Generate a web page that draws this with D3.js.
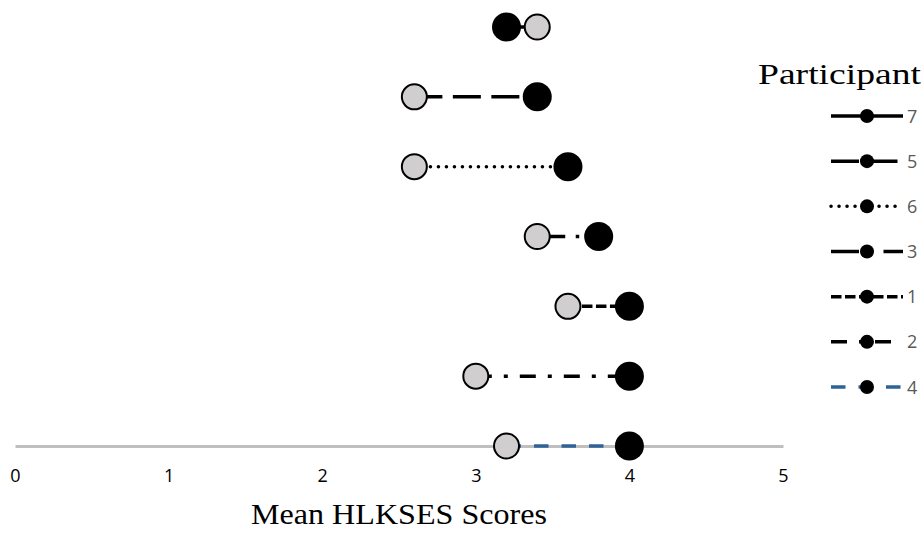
<!DOCTYPE html>
<html>
<head>
<meta charset="utf-8">
<script src="https://cdn.jsdelivr.net/npm/d3@7"></script>
<style>
  body { margin: 0; background: #fff; }
  svg { display: block; }
</style>
</head>
<body>
<div id="chart"></div>
<script>
// participants, top row to bottom row (same order as the legend)
const participants = ["7", "5", "6", "3", "1", "2", "4"];
// grey marker values and black marker values (mean HLKSES scores)
const greyScores = [3.4, 2.6, 2.6, 3.4, 3.6, 3.0, 3.2];
const blackScores = [3.2, 3.4, 3.6, 3.8, 4.0, 4.0, 4.0];
const xTicks = [0, 1, 2, 3, 4, 5];

// line style per participant
const lineStyles = {
  "7": { dash: null, color: "#000" },
  "5": { dash: "28 10.5", color: "#000" },
  "6": { dash: "0.1 7.9", color: "#000", cap: "round" },
  "3": { dash: "28 10.5 3.5 10.5", color: "#000" },
  "1": { dash: "10.5 3.5", color: "#000" },
  "2": { dash: "16 12 4 12", color: "#000" },
  "4": { dash: "14.5 13", color: "#2e6398" }
};

const width = 922;
const height = 534;
const serif = "'Liberation Serif', 'DejaVu Serif', serif";
const sans = "'Open Sans', 'Liberation Sans', sans-serif";

const svg = d3.select("#chart").append("svg")
  .attr("width", width)
  .attr("height", height);

const x = d3.scaleLinear().domain([0, 5]).range([15, 783]);
const y = d3.scalePoint().domain(participants).range([27, 446]);

const rows = participants.map((p, i) => ({
  participant: p,
  grey: greyScores[i],
  black: blackScores[i]
}));

// x axis: only the baseline and labels
const axis = svg.append("g")
  .attr("transform", `translate(0,${y("4")})`)
  .call(d3.axisBottom(x).tickValues(xTicks).tickSize(0).tickPadding(23).tickFormat(d3.format("d")));
axis.attr("font-size", null).attr("font-family", null);
axis.select(".domain").attr("stroke", "#bfbfbf").attr("stroke-width", 3);
axis.selectAll("text")
  .attr("font-family", sans)
  .attr("font-size", 18)
  .attr("fill", "#000");

svg.append("text")
  .attr("x", 399)
  .attr("y", 524)
  .attr("text-anchor", "middle")
  .attr("textLength", 296)
  .attr("lengthAdjust", "spacingAndGlyphs")
  .attr("font-family", serif)
  .attr("font-size", 29)
  .text("Mean HLKSES Scores");

// connecting lines
svg.append("g").selectAll("line")
  .data(rows)
  .join("line")
  .attr("x1", (d) => x(d.grey))
  .attr("x2", (d) => x(d.black))
  .attr("y1", (d) => y(d.participant))
  .attr("y2", (d) => y(d.participant))
  .attr("stroke", (d) => lineStyles[d.participant].color)
  .attr("stroke-width", 3.5)
  .attr("stroke-linecap", (d) => lineStyles[d.participant].cap || "butt")
  .attr("stroke-dasharray", (d) => lineStyles[d.participant].dash);

svg.append("g").selectAll("circle")
  .data(rows)
  .join("circle")
  .attr("cx", (d) => x(d.black))
  .attr("cy", (d) => y(d.participant))
  .attr("r", 14.5)
  .attr("fill", "#000");

svg.append("g").selectAll("circle")
  .data(rows)
  .join("circle")
  .attr("cx", (d) => x(d.grey))
  .attr("cy", (d) => y(d.participant))
  .attr("r", 12.5)
  .attr("fill", "#d0cece")
  .attr("stroke", "#000")
  .attr("stroke-width", 2);

// legend
const legend = svg.append("g");
legend.append("text")
  .attr("x", 758)
  .attr("y", 84)
  .attr("textLength", 163)
  .attr("lengthAdjust", "spacingAndGlyphs")
  .attr("font-family", serif)
  .attr("font-size", 29)
  .text("Participant");

const legendY = d3.scalePoint().domain(participants).range([116, 387]);

const item = legend.selectAll("g.item")
  .data(participants)
  .join("g")
  .attr("class", "item")
  .attr("transform", (p) => `translate(0,${legendY(p)})`);

item.append("line")
  .attr("x1", 831)
  .attr("x2", 903)
  .attr("stroke", (p) => lineStyles[p].color)
  .attr("stroke-width", 3.5)
  .attr("stroke-linecap", (p) => lineStyles[p].cap || "butt")
  .attr("stroke-dasharray", (p) => lineStyles[p].dash);

item.append("circle")
  .attr("cx", 867)
  .attr("r", 7)
  .attr("fill", "#000");

item.append("text")
  .attr("x", 907)
  .attr("y", 6.5)
  .attr("font-family", sans)
  .attr("font-size", 18)
  .attr("fill", "#595959")
  .text((p) => p);
</script>
</body>
</html>
